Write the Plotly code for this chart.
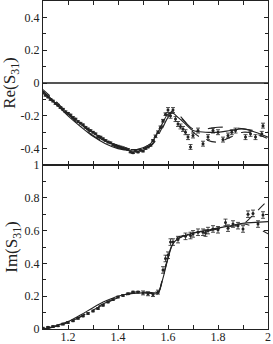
import plotly.graph_objects as go
from plotly.subplots import make_subplots

# ---- model curves: Re(S31) ----
x_model = [1.10, 1.15, 1.20, 1.25, 1.30, 1.35, 1.40, 1.45, 1.50, 1.53, 1.56, 1.58,
           1.60, 1.62, 1.64, 1.67, 1.70, 1.75, 1.80, 1.85, 1.90, 1.95, 2.00]
re_solid = [-0.05, -0.125, -0.20, -0.265, -0.325, -0.37, -0.40, -0.41, -0.395, -0.37,
            -0.30, -0.24, -0.19, -0.185, -0.21, -0.25, -0.29, -0.30, -0.30, -0.29,
            -0.28, -0.30, -0.33]
re_dash = [-0.04, -0.11, -0.185, -0.25, -0.31, -0.355, -0.385, -0.405, -0.40, -0.38,
           -0.32, -0.26, -0.20, -0.17, -0.19, -0.24, -0.30, -0.345, -0.36, -0.33,
           -0.30, -0.31, -0.34]
re_dashdot = [-0.05, -0.12, -0.19, -0.26, -0.32, -0.365, -0.395, -0.41, -0.40, -0.385,
              -0.33, -0.27, -0.21, -0.18, -0.20, -0.24, -0.28, -0.28, -0.27, -0.27,
              -0.28, -0.29, -0.30]

# ---- model curves: Im(S31) ----
x_model_im = [1.10, 1.15, 1.20, 1.25, 1.30, 1.35, 1.40, 1.45, 1.50, 1.55, 1.56, 1.58,
              1.60, 1.62, 1.64, 1.66, 1.70, 1.75, 1.80, 1.85, 1.90, 1.95, 2.00]
im_solid = [0.0, 0.02, 0.045, 0.085, 0.13, 0.17, 0.20, 0.215, 0.22, 0.215, 0.215, 0.31,
            0.43, 0.52, 0.55, 0.565, 0.585, 0.60, 0.615, 0.63, 0.645, 0.65, 0.655]
im_dash = [0.0, 0.015, 0.04, 0.075, 0.115, 0.155, 0.19, 0.215, 0.225, 0.22, 0.22, 0.32,
           0.44, 0.525, 0.56, 0.57, 0.585, 0.60, 0.615, 0.625, 0.64, 0.71, 0.785]
im_dashdot = [0.0, 0.015, 0.04, 0.075, 0.12, 0.16, 0.195, 0.22, 0.23, 0.225, 0.22, 0.315,
              0.435, 0.52, 0.55, 0.565, 0.58, 0.595, 0.61, 0.625, 0.64, 0.62, 0.58]

# ---- data points: Re(S31) ----
re_x = [1.10, 1.11, 1.12, 1.13, 1.14, 1.15, 1.16, 1.17, 1.18, 1.19, 1.20, 1.21, 1.22,
        1.23, 1.24, 1.25, 1.26, 1.27, 1.28, 1.29, 1.30, 1.31, 1.32, 1.33, 1.34, 1.35,
        1.36, 1.37, 1.38, 1.39, 1.40, 1.41, 1.42, 1.43, 1.44, 1.45, 1.46, 1.47, 1.48,
        1.49, 1.50, 1.51, 1.52, 1.53, 1.54, 1.55, 1.56, 1.57, 1.58, 1.59, 1.60, 1.61,
        1.62, 1.63, 1.64, 1.65, 1.66, 1.67, 1.68, 1.69, 1.70, 1.72, 1.74, 1.76, 1.78,
        1.80, 1.82, 1.84, 1.855, 1.87, 1.91, 1.93, 1.95, 1.975, 1.98]
re_y = [-0.06, -0.075, -0.085, -0.10, -0.11, -0.125, -0.135, -0.15, -0.16, -0.175, -0.185,
        -0.195, -0.21, -0.22, -0.235, -0.245, -0.255, -0.27, -0.28, -0.29, -0.30, -0.31,
        -0.325, -0.33, -0.34, -0.35, -0.36, -0.365, -0.375, -0.38, -0.385, -0.39, -0.395,
        -0.40, -0.405, -0.42, -0.425, -0.415, -0.42, -0.41, -0.415, -0.40, -0.39, -0.38,
        -0.35, -0.325, -0.30, -0.27, -0.23, -0.19, -0.165, -0.20, -0.165, -0.22, -0.25,
        -0.265, -0.28, -0.30, -0.33, -0.39, -0.32, -0.29, -0.37, -0.33, -0.29, -0.30,
        -0.345, -0.32, -0.30, -0.29, -0.33, -0.31, -0.33, -0.31, -0.26]
re_err = [0.005] * 45 + [0.008] * 5 + [0.015] * 25

# ---- data points: Im(S31) ----
im_x = [1.10, 1.12, 1.14, 1.16, 1.18, 1.20, 1.22, 1.24, 1.26, 1.28, 1.30, 1.32, 1.34,
        1.36, 1.38, 1.40, 1.42, 1.44, 1.46, 1.48, 1.50, 1.52, 1.54, 1.56, 1.58, 1.59,
        1.60, 1.61, 1.62, 1.64, 1.67, 1.69, 1.70, 1.72, 1.74, 1.75, 1.76, 1.78, 1.80,
        1.83, 1.84, 1.86, 1.88, 1.90, 1.92, 1.94, 1.96, 1.98]
im_y = [0.005, 0.01, 0.015, 0.02, 0.03, 0.04, 0.05, 0.065, 0.08, 0.095, 0.11, 0.125,
        0.145, 0.165, 0.18, 0.195, 0.205, 0.215, 0.225, 0.225, 0.22, 0.215, 0.21, 0.225,
        0.36, 0.43, 0.45, 0.53, 0.53, 0.545, 0.565, 0.57, 0.58, 0.59, 0.59, 0.585, 0.60,
        0.61, 0.605, 0.65, 0.615, 0.64, 0.63, 0.61, 0.70, 0.705, 0.64, 0.695]
im_err = [0.005] * 20 + [0.012] * 4 + [0.02] * 24

ink = "#222222"
font_family = "Liberation Serif, Times New Roman, serif"

fig = make_subplots(rows=2, cols=1, shared_xaxes=True, vertical_spacing=0)

def add_models(xs, solid, dash, dashdot, row):
    fig.add_trace(go.Scatter(x=xs, y=solid, mode="lines", line=dict(color=ink, width=1.1),
                             line_shape="spline", showlegend=False), row=row, col=1)
    fig.add_trace(go.Scatter(x=xs, y=dash, mode="lines",
                             line=dict(color=ink, width=1.1, dash="dash"),
                             line_shape="spline", showlegend=False), row=row, col=1)
    fig.add_trace(go.Scatter(x=xs, y=dashdot, mode="lines",
                             line=dict(color=ink, width=1.1, dash="longdash"),
                             line_shape="spline", showlegend=False), row=row, col=1)

add_models(x_model, re_solid, re_dash, re_dashdot, 1)
add_models(x_model_im, im_solid, im_dash, im_dashdot, 2)

marker_style = dict(symbol="circle", size=3, color=ink)
fig.add_trace(go.Scatter(x=re_x, y=re_y, mode="markers", marker=marker_style,
                         error_y=dict(type="data", array=re_err, color=ink, thickness=0.8, width=2),
                         showlegend=False), row=1, col=1)
fig.add_trace(go.Scatter(x=im_x, y=im_y, mode="markers", marker=marker_style,
                         error_y=dict(type="data", array=im_err, color=ink, thickness=0.8, width=2),
                         showlegend=False), row=2, col=1)

xticks = [1.2, 1.4, 1.6, 1.8, 2.0]
xtext = ["1.2", "1.4", "1.6", "1.8", "2"]
common_x = dict(range=[1.1, 2.0], showline=True, linecolor=ink, linewidth=1.2, mirror="allticks",
                ticks="inside", ticklen=4, tickcolor=ink, tickvals=xticks, showgrid=False,
                zeroline=False, automargin=False,
                minor=dict(ticks="inside", dtick=0.1, tick0=1.1, ticklen=4, tickcolor=ink))
fig.update_xaxes(**common_x)
fig.update_xaxes(ticktext=xtext, tickfont=dict(family=font_family, size=12, color=ink),
                 ticklabelstandoff=-4, row=2, col=1)

re_ticks = [-0.4, -0.2, 0, 0.2, 0.4]
re_text = ["-0.4", "-0.2", "0", "0.2", "0.4"]
im_ticks = [0, 0.2, 0.4, 0.6, 0.8, 1.0]
im_text = ["0", "0.2", "0.4", "0.6", "0.8", "1"]

common_y = dict(showline=True, linecolor=ink, linewidth=1.2, mirror="allticks", ticks="inside",
                ticklen=4, tickcolor=ink, showgrid=False, automargin=False,
                tickfont=dict(family=font_family, size=12, color=ink),
                minor=dict(ticks="inside", dtick=0.1, ticklen=3, tickcolor=ink))
fig.update_yaxes(**common_y)
fig.update_yaxes(range=[-0.5, 0.5], tickvals=re_ticks, ticktext=re_text, zeroline=True,
                 zerolinecolor="#555555", zerolinewidth=1.5,
                 title=dict(text="Re(S<sub>31</sub>)", font=dict(family=font_family, size=17,
                                                                color=ink), standoff=2),
                 row=1, col=1)
fig.update_yaxes(range=[0, 1], tickvals=im_ticks, ticktext=im_text, zeroline=False,
                 title=dict(text="Im(S<sub>31</sub>)", font=dict(family=font_family, size=17,
                                                                color=ink), standoff=2),
                 row=2, col=1)

fig.update_layout(width=273, height=344, margin=dict(l=43, r=5, t=1, b=15),
                  paper_bgcolor="white", plot_bgcolor="white",
                  font=dict(family=font_family, color=ink))

fig.write_html("out.html", config={"displayModeBar": False},
               post_script="document.body.style.margin='0';document.body.style.overflow='hidden';")
